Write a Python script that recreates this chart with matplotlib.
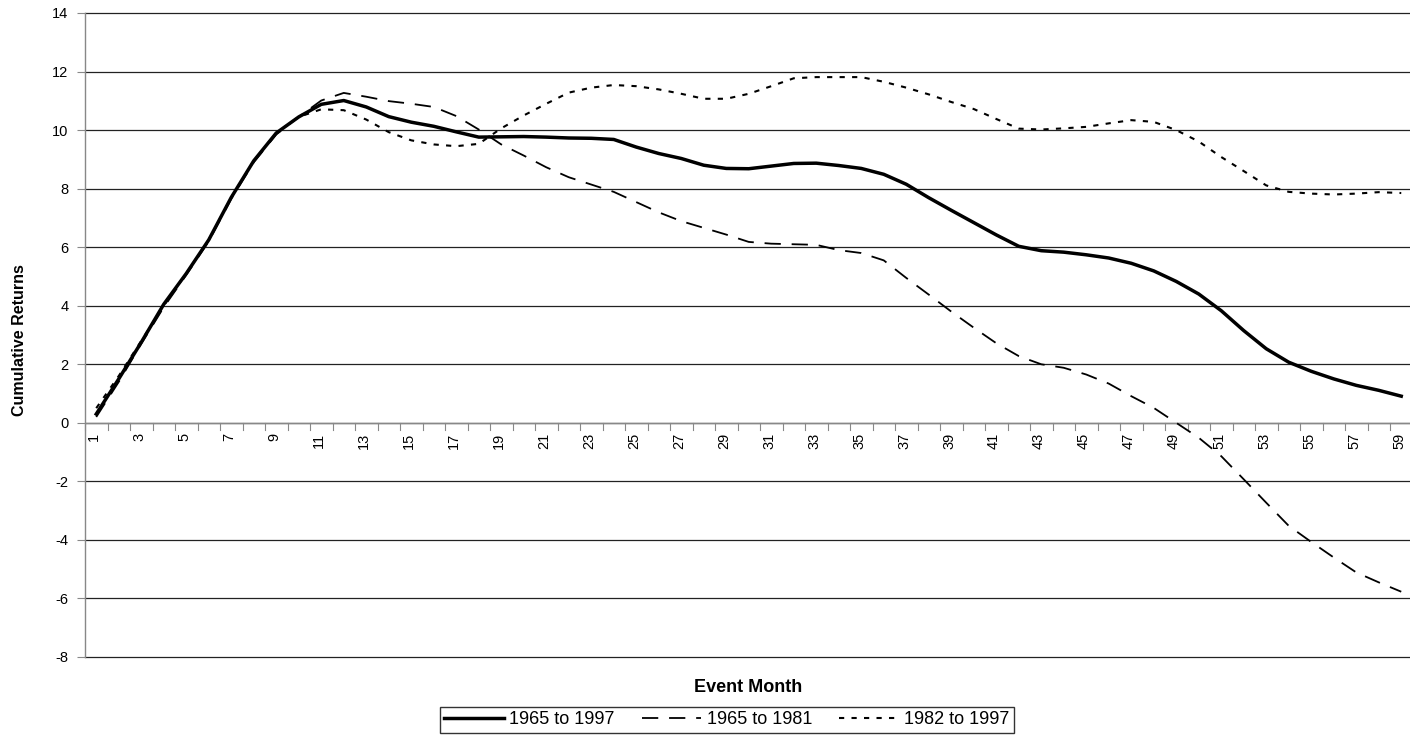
import matplotlib
matplotlib.use("Agg")
import matplotlib.pyplot as plt
import numpy as np

months = list(range(1, 60))
s_1965_1997 = [0.3, 1.5, 2.75, 4.05, 5.1, 6.25, 7.7, 8.95, 9.9, 10.45,
               10.88, 11.01, 10.79, 10.46, 10.27, 10.13, 9.94, 9.76, 9.77, 9.78,
               9.76, 9.73, 9.72, 9.68, 9.42, 9.2, 9.03, 8.8, 8.69, 8.68,
               8.77, 8.86, 8.87, 8.79, 8.69, 8.49, 8.15, 7.69, 7.26, 6.84,
               6.42, 6.03, 5.88, 5.83, 5.74, 5.63, 5.45, 5.19, 4.83, 4.40,
               3.83, 3.15, 2.53, 2.07, 1.76, 1.5, 1.28, 1.11, 0.91]
s_1965_1981 = [0.2, 1.4, 2.7, 3.95, 5.05, 6.2, 7.65, 8.9, 9.85, 10.45,
               11.01, 11.27, 11.14, 10.99, 10.9, 10.79, 10.48, 10.02, 9.51, 9.13,
               8.73, 8.39, 8.14, 7.89, 7.54, 7.19, 6.89, 6.66, 6.43, 6.18,
               6.12, 6.1, 6.08, 5.9, 5.8, 5.55, 4.95, 4.38, 3.8, 3.25,
               2.72, 2.28, 2.0, 1.88, 1.65, 1.34, 0.91, 0.51, 0.0, -0.51,
               -1.14, -1.93, -2.73, -3.52, -4.07, -4.6, -5.11, -5.45, -5.77]
s_1982_1997 = [0.5, 1.6, 2.8, 4.0, 5.1, 6.25, 7.7, 8.95, 9.9, 10.45,
               10.71, 10.68, 10.36, 9.93, 9.65, 9.51, 9.45, 9.53, 10.06, 10.5,
               10.9, 11.28, 11.45, 11.54, 11.5, 11.39, 11.24, 11.07, 11.07, 11.24,
               11.5, 11.77, 11.81, 11.81, 11.81, 11.65, 11.45, 11.22, 10.96, 10.72,
               10.38, 10.05, 10.02, 10.06, 10.11, 10.23, 10.34, 10.28, 10.0, 9.61,
               9.08, 8.6, 8.11, 7.89, 7.83, 7.8, 7.83, 7.88, 7.85]
series_labels = ["1965 to 1997", "1965 to 1981", "1982 to 1997"]
y_ticks = list(range(-8, 15, 2))
x_tick_labels = [str(m) for m in range(1, 60, 2)]

plt.rcParams['font.family'] = ['Liberation Sans', 'DejaVu Sans']

W, H = 1410, 739
fig = plt.figure(figsize=(W / 100, H / 100), dpi=100)
ax = fig.add_axes([85 / W, 82 / H, (1412.5 - 85) / W, (657 - 13) / H])

ax.plot(months, s_1965_1997, color='black', lw=2.5, solid_joinstyle='round',
        label=series_labels[0], zorder=4)
ax.plot(months, s_1965_1981, color='black', lw=1.3, dashes=(9, 6),
        label=series_labels[1], zorder=3)
ax.plot(months, s_1982_1997, color='black', lw=1.5, dashes=(2.5, 3.5),
        label=series_labels[2], zorder=3)

ax.set_xlim(0.5, 59.5)
ax.set_ylim(-8, 14)
ax.set_yticks(y_ticks)
ax.set_yticklabels([str(v) for v in y_ticks], fontsize=10.5)
for v in y_ticks:
    ax.axhline(v, color='#222222', lw=0.9, zorder=1, clip_on=False)

for s in ['top', 'right', 'bottom']:
    ax.spines[s].set_visible(False)
ax.spines['left'].set_color('#888888')
ax.spines['left'].set_linewidth(1.0)
ax.tick_params(axis='y', length=6, width=0.8, color='#888888', pad=6)

# category axis along y = 0
ax.set_xticks([])
ax.axhline(0, color='#888888', lw=1.0, zorder=2)
for b in np.arange(0.5, 60.0, 1.0):
    ax.plot([b, b], [0, -0.25], color='#888888', lw=0.8, zorder=2, clip_on=False)
for lab in x_tick_labels:
    ax.text(int(lab) - 0.1, -0.35, lab, rotation=90, ha='center', va='top',
            fontsize=10.5)

fig.text(20 / W, 1 - 340 / H, "Cumulative Returns", rotation=90, ha='center',
         va='center', fontsize=11.5, fontweight='bold')
fig.text(748 / W, 1 - 687 / H, "Event Month", ha='center', va='center',
         fontsize=13, fontweight='bold')

leg = fig.legend(loc='center', bbox_to_anchor=(727 / W, 1 - 720 / H), ncol=3,
                 fontsize=13, frameon=True, fancybox=False, handlelength=3.3,
                 handletextpad=0.3, columnspacing=1.5, borderpad=0.25,
                 borderaxespad=0)
leg.get_frame().set_edgecolor('black')
leg.get_frame().set_linewidth(1.0)

fig.savefig("out.png", dpi=100)
